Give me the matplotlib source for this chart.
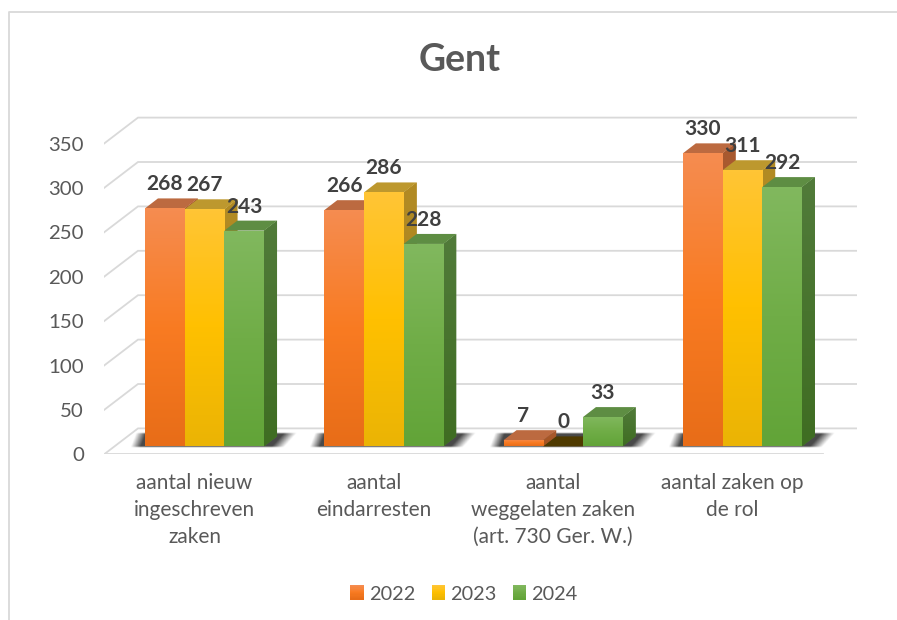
import numpy as np
import matplotlib
matplotlib.use('Agg')
import matplotlib.pyplot as plt
from matplotlib.colors import LinearSegmentedColormap
from matplotlib.legend_handler import HandlerBase
from matplotlib.lines import Line2D
from matplotlib.patches import Patch, Polygon, Rectangle

plt.rcParams['font.family'] = ['Lato', 'DejaVu Sans']

# Data
categories = ['aantal nieuw\ningeschreven\nzaken', 'aantal\neindarresten',
              'aantal\nweggelaten zaken\n(art. 730 Ger. W.)', 'aantal zaken op\nde rol']
years = ['2022', '2023', '2024']
values_2022 = [268, 266, 7, 330]
values_2023 = [267, 286, 0, 311]
values_2024 = [243, 228, 33, 292]
y_ticks = [0, 50, 100, 150, 200, 250, 300, 350]

# Colours: front (top, middle, bottom), then top face and side (top, bottom)
front_colors = [['#F58C50', '#F97B22', '#E86D18'],
                ['#FFC535', '#FFC000', '#EBB405'],
                ['#81B85E', '#70AD47', '#62A438']]
top_colors = ['#BC6A40', '#BD982E', '#5E8D43']
side_colors = [['#A95A30', '#A5541F'], ['#B28B24', '#A8801A'], ['#517B3A', '#3F6D22']]
zero_color = '#4F3A00'
grid_color = '#D9D9D9'
text_color = '#595959'
label_color = '#404040'

# Layout in pixels of the 897x620 picture
W, H = 897, 620
px_x = 179.3         # one category
px_y = 0.888         # one value unit
x0_px = 204.5        # centre of the first group
y0_px = 446.4        # value 0 on the front of the bars
left_px, right_px, bottom_px, top_px = 104, 857, 454.4, 100
bar_w = 39.7 / px_x
dep_x = 13 / px_x
dep_y = 10 / px_y
floor = -(bottom_px - y0_px) / px_y
back_x = 34 / px_x
back_y = 26 / px_y

fig = plt.figure(figsize=(W / 100, H / 100), dpi=100)
ax = fig.add_axes([left_px / W, 1 - bottom_px / H, (right_px - left_px) / W, (bottom_px - top_px) / H])
xlim = ((left_px - x0_px) / px_x, (right_px - x0_px) / px_x)
ylim = (floor, (y0_px - top_px) / px_y)


def gradient(colors, extent, clip, z):
    cmap = LinearSegmentedColormap.from_list('g', colors)
    im = ax.imshow(np.linspace(0, 1, 64).reshape(-1, 1), cmap=cmap, extent=extent,
                   aspect='auto', zorder=z, origin='upper', interpolation='bilinear')
    im.set_clip_path(clip)


# Gridlines run along the left wall, then along the back wall
for t in y_ticks:
    ax.plot([xlim[0], xlim[0] + back_x, xlim[1]], [floor + t, floor + t + back_y, floor + t + back_y],
            color=grid_color, lw=1.3, zorder=1, solid_joinstyle='miter')
ax.plot([xlim[0], xlim[1] - back_x], [floor, floor], color=grid_color, lw=1.3, zorder=1)

series = [values_2022, values_2023, values_2024]
x = np.arange(len(categories))

# Soft shadow on the floor behind every group
xs = np.linspace(0, 1, 260)
ts = np.linspace(0, 1, 30)
for xc in x:
    xl = xc - 1.5 * bar_w - 15 / px_x
    xr = xc + 1.5 * bar_w + 33 / px_x
    span = (xr - xl) * px_x
    gx, gt = np.meshgrid(xs * span, ts)
    left_ramp = np.clip((gx - 6 * gt) / 10, 0, 1)
    right_ramp = np.clip((span - 14 * (1 - gt) - gx) / 13, 0, 1)
    alpha = left_ramp * right_ramp * np.clip(np.sin(np.pi * gt) * 3, 0, 1) * 0.92
    rgba = np.zeros(alpha.shape + (4,))
    rgba[..., :3] = 0.22
    rgba[..., 3] = alpha
    ax.imshow(rgba, extent=(xl, xr, -2, dep_y + 4), aspect='auto', origin='lower',
              zorder=2, interpolation='bilinear')

# Bars, left to right so that each front covers the side of the bar before it
z = 3
for i, xc in enumerate(x):
    for s, vals in enumerate(series):
        v = vals[i]
        xl = xc + (s - 1.5) * bar_w
        xr = xl + bar_w
        side = Polygon([(xr, 0), (xr + dep_x, dep_y), (xr + dep_x, v + dep_y), (xr, v)],
                       fc=side_colors[s][0], ec='none', zorder=z)
        ax.add_patch(side)
        if v > 0:
            gradient(side_colors[s], (xr, xr + dep_x, 0, v + dep_y), side, z)
        top = Polygon([(xl, v), (xr, v), (xr + dep_x, v + dep_y), (xl + dep_x, v + dep_y)],
                      fc=top_colors[s] if v > 0 else zero_color, ec='none', zorder=z + 0.1)
        ax.add_patch(top)
        bar = ax.bar(xl + bar_w / 2, v, bar_w, color=front_colors[s][1], zorder=z + 0.2)[0]
        if v > 0:
            gradient(front_colors[s], (xl, xr, 0, v), bar, z + 0.2)
        z += 1

# Value labels
for i, xc in enumerate(x):
    for s, vals in enumerate(series):
        ax.text(xc + (s - 1) * bar_w, vals[i] + 27, str(vals[i]), ha='center', va='center',
                fontsize=15, fontweight='bold', color=label_color, zorder=100)

ax.set_xlim(xlim)
ax.set_ylim(ylim)
ax.set_xticks(x - 10 / px_x, categories, fontsize=15, color=text_color, linespacing=1.44)
ax.set_yticks(np.array(y_ticks) + floor, [str(t) for t in y_ticks], fontsize=14.7, color=text_color)
ax.tick_params(axis='x', length=0, pad=13.5)
ax.tick_params(axis='y', length=0, pad=14.5)
for spine in ax.spines.values():
    spine.set_visible(False)
ax.patch.set_alpha(0)

fig.text(460 / W, 1 - 60 / H, 'Gent', ha='center', va='center', fontsize=27, fontweight='bold', color=text_color)

# Outer frame of the chart, cut off at the right and at the bottom
fig.add_artist(Line2D([9 / W, 9 / W, 1], [0, 1 - 12 / H, 1 - 12 / H], color=grid_color, lw=1.3))


class GradientHandle(HandlerBase):
    def create_artists(self, legend, orig_handle, xdescent, ydescent, width, height, fontsize, trans):
        cmap = LinearSegmentedColormap.from_list('g', orig_handle.colors)
        n = 12
        strips = []
        for k in range(n):
            strips.append(Rectangle((-xdescent, -ydescent + height * (n - k - 1) / n), width, height / n + 0.3,
                                    fc=cmap(k / (n - 1)), ec='none', transform=trans))
        return strips


handles = []
for s, year in enumerate(years):
    h = Patch(label=year)
    h.colors = front_colors[s]
    handles.append(h)
leg = fig.legend(handles=handles, loc='center', bbox_to_anchor=(464 / W, 1 - 594 / H), ncol=3, frameon=False,
                 fontsize=14.3, labelcolor=text_color, handler_map={Patch: GradientHandle()},
                 handlelength=0.7, handleheight=0.7, handletextpad=0.25, columnspacing=0.8)

fig.savefig('out.png', dpi=100)
